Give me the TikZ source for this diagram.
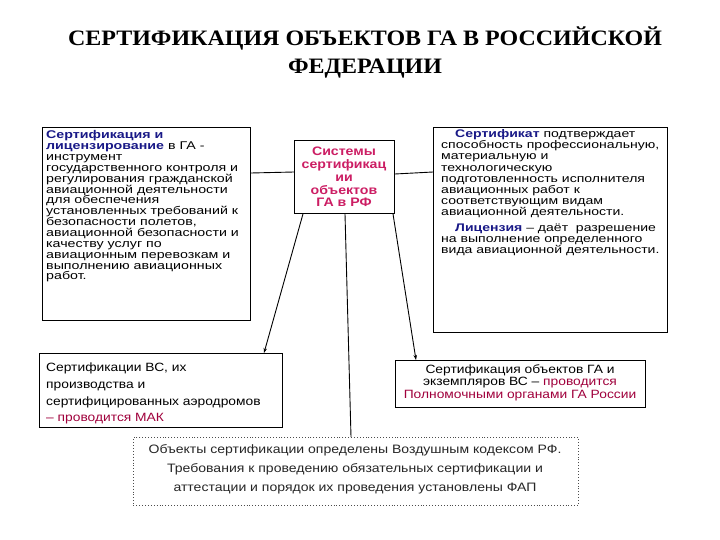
\documentclass[tikz,border=0pt]{standalone}
\usepackage{fontspec}
\setmainfont{Liberation Sans}[FakeStretch=1.15]
\newfontfamily\wideb{Liberation Sans}[FakeStretch=1.27]
\newfontfamily\titlefont{Liberation Serif}[FakeStretch=1.09]
\usetikzlibrary{arrows.meta}
\definecolor{navyt}{RGB}{25,25,135}
\definecolor{magt}{RGB}{204,30,100}
\definecolor{crimt}{RGB}{160,0,60}
\newcommand{\fsz}[2]{\fontsize{#1}{#2}\selectfont\lineskiplimit=-30pt\relax}
\tikzset{
  box/.style={draw=black, line width=0.9pt, inner sep=0pt, anchor=north west},
  conn/.style={draw=black, line width=0.9pt},
  arr/.style={conn, -{Stealth[length=5pt,width=3.5pt]}}
}
\begin{document}
\begin{tikzpicture}[x=1pt,y=-1pt]
\useasboundingbox[fill=white] (0,0) rectangle (720,540);
% title
\node[inner sep=0pt, align=center, font=\titlefont\bfseries\fsz{22}{28}] (title) at (365,52)
  {СЕРТИФИКАЦИЯ ОБЪЕКТОВ ГА В РОССИЙСКОЙ\\ФЕДЕРАЦИИ};
% boxes
\node[box, minimum width=208pt, minimum height=193pt] (L) at (42,127) {};
\node[box, minimum width=100pt, minimum height=73pt] (C) at (294,140) {};
\node[box, minimum width=234pt, minimum height=205pt] (R) at (433,127) {};
\node[box, minimum width=243pt, minimum height=74pt] (LL) at (39,353) {};
\node[box, minimum width=250pt, minimum height=47pt] (LR) at (395,360) {};
\node[box, draw=black!70, dotted, minimum width=445pt, minimum height=68pt] (B) at (133,437) {};
% texts
\node[inner sep=0pt, anchor=north west, align=left, font=\wideb\fsz{11.2}{10.85}] (Lt) at (46,130.5)
 {{\bfseries\color{navyt}Сертификация и}\\
  {\bfseries\color{navyt}лицензирование} в ГА -\\
  инструмент\\
  государственного контроля и\\
  регулирования гражданской\\
  авиационной деятельности\\
  для обеспечения\\
  установленных требований к\\
  безопасности полетов,\\
  авиационной безопасности и\\
  качеству услуг по\\
  авиационным перевозкам и\\
  выполнению авиационных\\
  работ.};
\node[inner sep=0pt, align=center, text=magt, font=\bfseries\fsz{12.3}{12.8}, anchor=north] (Ct) at (344,147)
 {Системы\\сертификац\\ии\\объектов\\ГА в РФ};
\node[inner sep=0pt, anchor=north west, align=left, font=\wideb\fsz{11.05}{11.1}] (Rt) at (441,129.5)
 {\hspace*{14pt}{\bfseries\color{navyt}Сертификат} подтверждает\\
  способность профессиональную,\\
  материальную и\\
  технологическую\\
  подготовленность исполнителя\\
  авиационных работ к\\
  соответствующим видам\\
  авиационной деятельности.\\[5pt]
  \hspace*{14pt}{\bfseries\color{navyt}Лицензия} – даёт\ \ разрешение\\
  на выполнение определенного\\
  вида авиационной деятельности.};
\node[inner sep=0pt, anchor=north west, align=left, font=\fsz{12}{16.7}] (LLt) at (46,363)
 {Сертификации ВС, их\\
  производства и\\
  сертифицированных аэродромов\\
  {\color{crimt}– проводится МАК}};
\node[inner sep=0pt, anchor=north, align=center, font=\fsz{12}{12.5}] (LRt) at (520,364)
 {Сертификация объектов ГА и\\
  экземпляров ВС – {\color{crimt}проводится}\\
  {\color{crimt}Полномочными органами ГА России}};
\node[inner sep=0pt, anchor=north, align=center, text=black!85, font=\fsz{12.2}{19}] (Bt) at (355,444)
 {Объекты сертификации определены Воздушным кодексом РФ.\\
  Требования к проведению обязательных сертификации и\\
  аттестации и порядок их проведения установлены ФАП};
% connectors
\draw[conn] (L.east |- 0,173) -- (C.west |- 0,172);
\draw[conn] (C.east |- 0,174) -- (R.west |- 0,172);
\draw[arr] (C.south -| 303,0) -- (LL.north -| 264,0);
\draw[conn] (C.south -| 345,0) -- (B.north -| 351,0);
\draw[arr] (C.south -| 393,0) -- (LR.north -| 416,0);
\end{tikzpicture}
\end{document}
